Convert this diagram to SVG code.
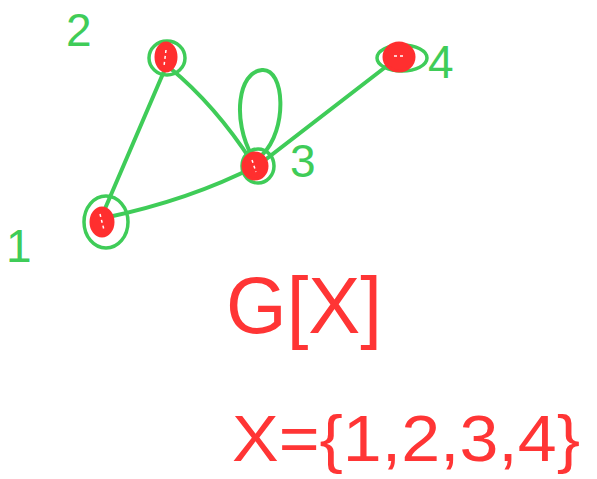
<svg xmlns="http://www.w3.org/2000/svg" width="597" height="479" viewBox="0 0 597 479">
<style>
.e{fill:none;stroke:#3fcc58;stroke-width:4;stroke-linecap:round}
.g{fill:none;stroke:#3fcc58;stroke-width:3.5}
.r{fill:#ff2f2f;stroke:#ff2f2f;stroke-width:3}
.rd{fill:none;stroke:#ffffff;stroke-width:1.5;stroke-dasharray:3 3}
.lg{font-family:"Liberation Sans",sans-serif;fill:#3fcc58;font-size:46px}
.lr{font-family:"Liberation Sans",sans-serif;fill:#ff3535}
</style>
<rect width="597" height="479" fill="#ffffff"/>
<g id="connectors">
<path class="e" d="M101,218 L168,62"/>
<path class="e" d="M170,68 Q215,105 252,162"/>
<path class="e" d="M104,218 Q190,200 256,166"/>
<path class="e" d="M252,170 L392,62"/>
<path class="e" d="M252,156 C232,120 238,72 262,70 C285,68 288,130 262,155"/>
</g>
<g id="node1">
<ellipse class="g" cx="106" cy="222" rx="22" ry="26"/>
<ellipse class="r" cx="102" cy="222" rx="11" ry="14"/>
<path class="rd" d="M100,214 L104,230"/>
<text class="lg" x="6" y="262">1</text>
</g>
<g id="node2">
<ellipse class="g" cx="167" cy="58" rx="18" ry="17"/>
<ellipse class="r" cx="166" cy="57" rx="10" ry="14"/>
<path class="rd" d="M166,50 L164,66"/>
<text class="lg" x="66" y="46">2</text>
</g>
<g id="node3">
<ellipse class="g" cx="258" cy="166" rx="16" ry="17"/>
<ellipse class="r" cx="255" cy="166" rx="12" ry="13"/>
<path class="rd" d="M252,160 L256,172"/>
<text class="lg" x="290" y="177">3</text>
</g>
<g id="node4">
<ellipse class="g" cx="402" cy="58" rx="25" ry="13"/>
<ellipse class="r" cx="399" cy="57" rx="15" ry="14"/>
<path class="rd" d="M394,56 L406,56"/>
<text class="lg" x="428" y="78">4</text>
</g>
<text class="lr" x="226" y="333" font-size="80" textLength="156" lengthAdjust="spacingAndGlyphs">G[X]</text>
<text class="lr" x="232" y="461" font-size="64" textLength="348" lengthAdjust="spacingAndGlyphs">X={1,2,3,4}</text>
</svg>
